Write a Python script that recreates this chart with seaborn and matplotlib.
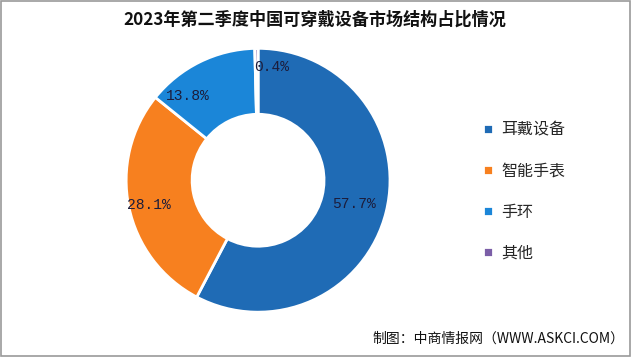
import matplotlib
matplotlib.use("Agg")
import matplotlib.pyplot as plt
import seaborn as sns
from matplotlib.patches import Rectangle

# Data
categories = ["耳戴设备", "智能手表", "手环", "其他"]
shares = [57.7, 28.1, 13.8, 0.4]
colors = ["#1f6bb5", "#f7801f", "#1b86d8", "#7b5ea7"]
title = "2023年第二季度中国可穿戴设备市场结构占比情况"
source = "制图：中商情报网（WWW.ASKCI.COM）"

sns.set_style("white")
plt.rcParams['font.family'] = ['Noto Sans CJK SC', 'DejaVu Sans']

fig = plt.figure(figsize=(6.4, 3.58), dpi=100)
fig.patch.set_facecolor("white")

# outer frame
fig.patches.append(Rectangle((0.002, 0.006), 0.982, 0.99, transform=fig.transFigure,
                             fill=False, edgecolor="#9a9a9a", linewidth=1.2))

ax = fig.add_axes([0.197, 0.128, 0.4125, 0.737])
wedges, texts, autotexts = ax.pie(
    shares, colors=colors, startangle=90, counterclock=False,
    autopct="%.1f%%", pctdistance=0.75,
    wedgeprops=dict(width=0.5, edgecolor="white", linewidth=2),
    textprops=dict(family="Liberation Mono", fontsize=10.5, color="#1c1c3a"))
ax.set_aspect("equal")
ax.set_xlim(-1.0, 1.0)
ax.set_ylim(-1.0, 1.0)

# nudge labels to where the original puts them
autotexts[1].set_position((-0.83, -0.19))
autotexts[2].set_position((-0.53, 0.64))
autotexts[3].set_position((0.1, 0.86))

fig.text(0.492, 0.945, title, ha="center", va="center", fontsize=12.3, fontweight="bold",
         color="#111111")

leg = fig.legend(wedges, categories, loc="upper left", bbox_to_anchor=(0.733, 0.70),
                 frameon=False, fontsize=11.5, handlelength=0.6, handleheight=0.6,
                 handletextpad=0.5, labelspacing=1.5)

fig.text(0.975, 0.055, source, ha="right", va="center", fontsize=10, color="#111111")

fig.savefig("out.png", dpi=100)
